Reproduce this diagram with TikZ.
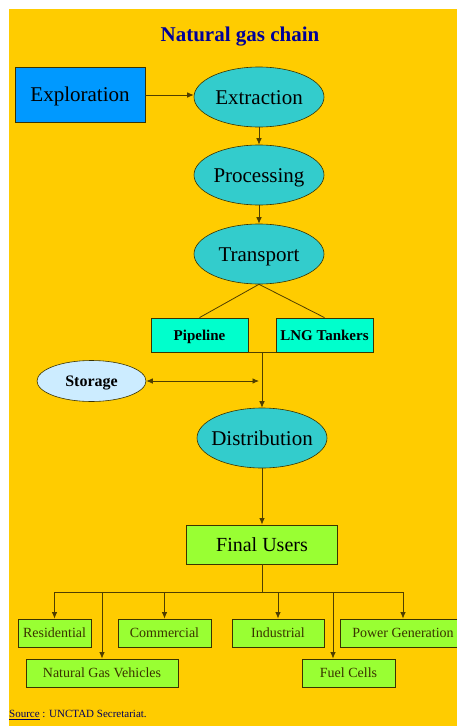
\documentclass[tikz,border=0pt]{standalone}
\usepackage{fontspec}
\setmainfont{Liberation Serif}
\usetikzlibrary{arrows.meta,shapes.geometric,calc}
\definecolor{gasbg}{HTML}{FFCC00}
\definecolor{gasblue}{HTML}{0099FF}
\definecolor{gasteal}{HTML}{33CCCC}
\definecolor{gasaqua}{HTML}{00FFCC}
\definecolor{gaspale}{HTML}{CCECFF}
\definecolor{gasgreen}{HTML}{99FF33}
\definecolor{gasnavy}{HTML}{000099}
\definecolor{gasline}{HTML}{4F3E00}
\definecolor{gasedge}{HTML}{3A3300}
\tikzset{
  >={Latex[length=6.5pt,width=5.5pt]},
  stage/.style={ellipse,draw=gasedge,line width=0.6pt,fill=gasteal,inner sep=-10pt,
                minimum width=130pt,minimum height=60pt,text height=14pt,text depth=0pt,
                font=\fontsize{21}{23}\selectfont},
  bigbox/.style={rectangle,draw=gasedge,line width=0.8pt,inner sep=0pt,
                 text height=13.5pt,text depth=0pt,font=\fontsize{21}{23}\selectfont},
  modebox/.style={rectangle,draw=gasedge,line width=0.8pt,fill=gasaqua,inner sep=0pt,
                  minimum width=97pt,minimum height=34pt,text height=10pt,text depth=0pt,
                  font=\bfseries\fontsize{15}{17}\selectfont},
  userbox/.style={rectangle,draw=gasedge,line width=0.8pt,fill=gasgreen,inner sep=0pt,
                  minimum width=93pt,minimum height=28pt,text height=9.3pt,text depth=0pt,
                  text=gasedge,font=\fontsize{14}{16}\selectfont},
  link/.style={draw=gasline,line width=0.8pt},
  feed/.style={->,draw=gasline,line width=0.8pt},
}
\begin{document}
\begin{tikzpicture}[x=1pt,y=-1pt]
  \useasboundingbox (0,0) rectangle (457,726);
  % page and slide background
  \fill[white] (0,0) rectangle (457,726);
  \fill[gasbg] (9,9) rectangle (457,726);

  \node[font=\bfseries\fontsize{21}{23}\selectfont,text=gasnavy] (title) at (240,37) {Natural gas chain};

  % upstream chain
  \node[bigbox,fill=gasblue,minimum width=130pt,minimum height=55pt] (explo) at (80,95) {Exploration};
  \node[stage] (extr) at (259,97) {Extraction};
  \node[stage] (proc) at (259,175) {Processing};
  \node[stage] (trans) at (259,254) {Transport};
  \draw[feed] (explo.east) -- (explo.east -| extr.west);
  \draw[feed] (extr.south) -- (proc.north);
  \draw[feed] (proc.south) -- (trans.north);

  % transport modes
  \node[modebox] (pipe) at (199.5,335) {Pipeline};
  \node[modebox] (lng) at (324.5,335) {LNG Tankers};
  \draw[link] (trans.south) -- (pipe.north);
  \draw[link] (trans.south) -- (lng.north);
  \draw[link] (pipe.south east) -- (lng.south west);
  \coordinate (join) at ($(pipe.south east)!0.5!(lng.south west)$);

  % storage and distribution
  \node[ellipse,draw=gasedge,line width=0.6pt,fill=gaspale,inner sep=-4pt,minimum width=109pt,
        minimum height=41pt,text height=10.5pt,text depth=0pt,
        font=\bfseries\fontsize{16}{18}\selectfont] (stor) at (91.5,381) {Storage};
  \node[stage] (dist) at (262,438) {Distribution};
  \draw[feed] (join) -- (dist.north);
  \coordinate (tap) at ($(stor.east -| join)+(-3,0)$);
  \draw[feed,<->] (stor.east) -- (tap);

  % final users
  \node[bigbox,fill=gasgreen,minimum width=151pt,minimum height=39pt,text height=13pt,
        font=\fontsize{20}{22}\selectfont] (users) at (262,544.5) {Final Users};
  \draw[feed] (dist.south) -- (users.north);

  \node[userbox,minimum width=73pt] (resi) at (54.5,633) {Residential};
  \node[userbox] (comm) at (164.5,633) {Commercial};
  \node[userbox,minimum width=92pt] (indu) at (278,633) {Industrial};
  \node[userbox,minimum width=126pt] (powr) at (403,633) {Power Generation};
  \node[userbox,minimum width=152pt] (ngv) at (102,673) {Natural Gas Vehicles};
  \node[userbox] (fuel) at (348.5,673) {Fuel Cells};

  \coordinate (bus) at (262,592);
  \coordinate (fuelin) at ($(fuel.north)+(-15.5,0)$);
  \draw[link] (users.south) -- (bus);
  \draw[link] (resi.north |- bus) -- (powr.north |- bus);
  \foreach \u in {resi,comm,indu,powr,ngv}{
    \draw[feed] (\u.north |- bus) -- (\u.north);
  }
  \draw[feed] (fuelin |- bus) -- (fuelin);

  % source line
  \node[anchor=west,inner sep=0pt,text=gasnavy!60!black,font=\fontsize{11}{13}\selectfont] (src) at (9,715)
    {\underline{Source} : UNCTAD Secretariat.};
\end{tikzpicture}
\end{document}
